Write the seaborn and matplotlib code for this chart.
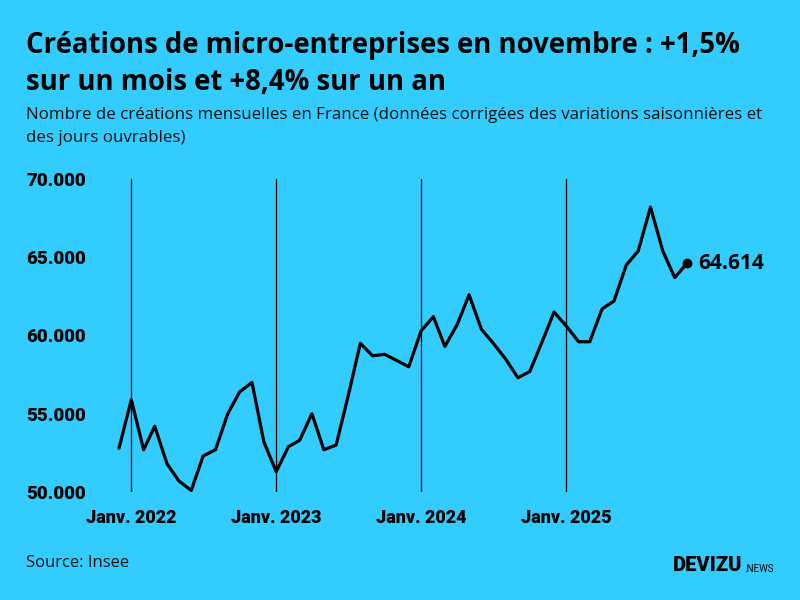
import pandas as pd
import matplotlib
matplotlib.use("Agg")
import matplotlib.pyplot as plt
import seaborn as sns

# données mensuelles (CVS-CJO), déc. 2021 -> nov. 2025
months = pd.date_range("2021-12-01", "2025-11-01", freq="MS")
creations = [
    52800,
    55900, 52700, 54200, 51800, 50700, 50100, 52300, 52700, 55000, 56400, 57000, 53200,
    51300, 52900, 53300, 55000, 52700, 53000, 56100, 59500, 58700, 58800, 58400, 58000,
    60300, 61200, 59300, 60700, 62600, 60400, 59500, 58500, 57300, 57700, 59600, 61500,
    60600, 59600, 59600, 61700, 62200, 64500, 65400, 68200, 65400, 63700, 64614,
]
y_ticks = [50000, 55000, 60000, 65000, 70000]
y_tick_labels = ["50.000", "55.000", "60.000", "65.000", "70.000"]
jan_ticks = pd.to_datetime(["2022-01-01", "2023-01-01", "2024-01-01", "2025-01-01"])
jan_labels = ["Janv. 2022", "Janv. 2023", "Janv. 2024", "Janv. 2025"]

df = pd.DataFrame({"mois": months, "creations": creations})

bg = "#33CCFF"
sns.set_theme(style="white", rc={"figure.facecolor": bg, "axes.facecolor": bg})
plt.rcParams["font.family"] = ["Open Sans", "DejaVu Sans"]

fig = plt.figure(figsize=(8, 6), dpi=100)
ax = fig.add_axes([0.14875, 0.18, 0.71, 0.5217])

sns.lineplot(data=df, x="mois", y="creations", ax=ax, color="black",
             linewidth=2.3, clip_on=False)
ax.plot(months[-1], creations[-1], "o", color="black", markersize=6, clip_on=False)
ax.annotate("64.614", (months[-1], creations[-1]), xytext=(8, 0),
            textcoords="offset points", va="center", ha="left",
            fontsize=15, fontweight="bold", color="black")

for d in jan_ticks:
    ax.axvline(d, color="black", linewidth=0.9, zorder=0)

ax.set_xlim(months[0], months[-1])
ax.set_ylim(50000, 70000)
ax.set_yticks(y_ticks)
ax.set_yticklabels(y_tick_labels, fontfamily="Roboto", fontweight="black", fontsize=13.5)
ax.set_xticks(jan_ticks)
ax.set_xticklabels(jan_labels, fontfamily="Roboto", fontweight="black", fontsize=13)
ax.tick_params(axis="y", length=0, pad=24, colors="black")
ax.tick_params(axis="x", length=0, pad=12, colors="black")
ax.set_xlabel("")
ax.set_ylabel("")
sns.despine(ax=ax, left=True, bottom=True)

fig.text(0.0325, 0.912, "Créations de micro-entreprises en novembre : +1,5%",
         fontsize=19.8, fontweight="bold", color="black", va="baseline")
fig.text(0.0325, 0.850, "sur un mois et +8,4% sur un an",
         fontsize=19.8, fontweight="bold", color="black", va="baseline")
fig.text(0.0325, 0.802,
         "Nombre de créations mensuelles en France (données corrigées des variations saisonnières et",
         fontsize=12.2, color="#111111", va="baseline")
fig.text(0.0325, 0.764, "des jours ouvrables)",
         fontsize=12.2, color="#111111", va="baseline")

fig.text(0.0325, 0.062, "Source: Insee", fontsize=12, color="#111111", va="center")
fig.text(0.841, 0.057, "DEVIZU", fontsize=14.5, fontweight="black", color="black",
         va="center", fontfamily="Roboto")
fig.text(0.931, 0.052, ".NEWS", fontsize=7, color="black", va="center",
         fontfamily="Roboto")

fig.savefig("out.png", dpi=100, facecolor=bg)
